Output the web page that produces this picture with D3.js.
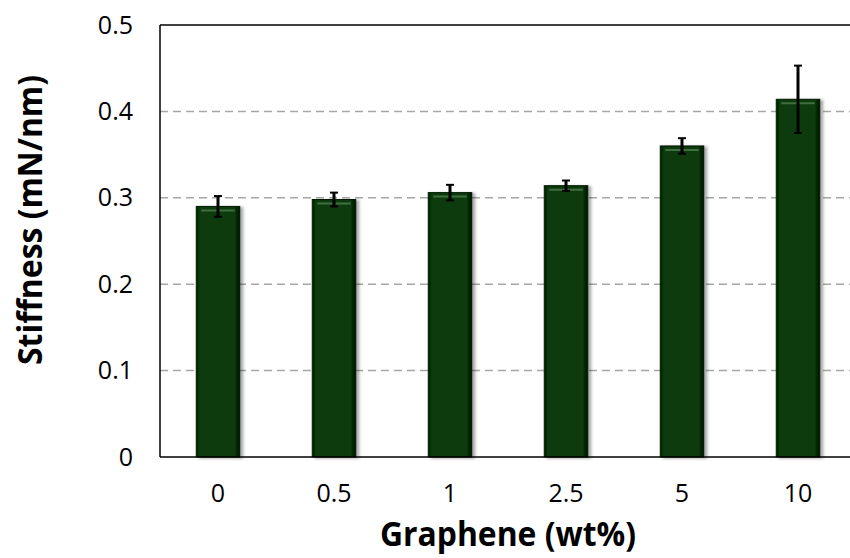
<!DOCTYPE html>
<html>
<head>
<meta charset="utf-8">
<script src="https://cdn.jsdelivr.net/npm/d3@7"></script>
<style>
  body { margin: 0; background: #fff; }
  svg { display: block; }
</style>
</head>
<body>
<svg id="chart" width="850" height="558"></svg>
<script>
const categories = ["0", "0.5", "1", "2.5", "5", "10"];
const stiffness = [0.290, 0.298, 0.306, 0.314, 0.360, 0.414];
const errors = [0.012, 0.008, 0.009, 0.006, 0.009, 0.039];
const yTickValues = [0, 0.1, 0.2, 0.3, 0.4, 0.5];

const data = categories.map((c, i) => ({ cat: c, value: stiffness[i], err: errors[i] }));

const fontFamily = '"Open Sans", "Noto Sans", sans-serif';

const svg = d3.select('#chart');
const margin = { top: 25, right: -6, bottom: 101, left: 160 };
const width = 850, height = 558;
const innerWidth = width - margin.left - margin.right;
const innerHeight = height - margin.top - margin.bottom;

const defs = svg.append('defs');
const grad = defs.append('linearGradient').attr('id', 'barGrad')
    .attr('x1', 0).attr('x2', 1).attr('y1', 0).attr('y2', 0);
grad.append('stop').attr('offset', '0%').attr('stop-color', '#021f02');
grad.append('stop').attr('offset', '8%').attr('stop-color', '#083a08');
grad.append('stop').attr('offset', '88%').attr('stop-color', '#083a08');
grad.append('stop').attr('offset', '100%').attr('stop-color', '#011501');

const shadow = defs.append('filter').attr('id', 'shadow')
    .attr('x', '-20%').attr('y', '-10%').attr('width', '150%').attr('height', '120%');
shadow.append('feDropShadow').attr('dx', 3).attr('dy', 1).attr('stdDeviation', 1.5)
    .attr('flood-color', '#000').attr('flood-opacity', 0.35);

const g = svg.append('g')
    .attr('transform', `translate(${margin.left},${margin.top})`);

const xScale = d3.scaleBand()
    .domain(categories)
    .range([0, innerWidth])
    .paddingInner(0.625)
    .paddingOuter(0.3125);

const yScale = d3.scaleLinear()
    .domain([0, 0.5])
    .range([innerHeight, 0]);

// gridlines
g.selectAll('.grid').data(yTickValues.filter(v => v > 0 && v < 0.5))
  .enter().append('line')
    .attr('x1', 0).attr('x2', innerWidth)
    .attr('y1', d => yScale(d)).attr('y2', d => yScale(d))
    .attr('stroke', '#a6a6a6')
    .attr('stroke-width', 1.5)
    .attr('stroke-dasharray', '8,5');

const yAxis = d3.axisLeft(yScale)
    .tickValues(yTickValues)
    .tickSize(0)
    .tickPadding(27)
    .tickFormat(d => d === 0 ? '0' : d3.format('.1f')(d));

const yAxisG = g.append('g').call(yAxis);
yAxisG.select('.domain').remove();

const xAxis = d3.axisBottom(xScale)
    .tickSize(0)
    .tickPadding(27);

const xAxisG = g.append('g').call(xAxis)
    .attr('transform', `translate(0,${innerHeight})`);
xAxisG.select('.domain').remove();

[yAxisG, xAxisG].forEach(ax => {
    ax.attr('font-family', fontFamily).attr('font-size', 25);
    ax.selectAll('text').attr('fill', '#000');
});

// bars
const bars = g.selectAll('.bar').data(data).enter().append('g').attr('class', 'bar');

bars.append('rect')
    .attr('x', d => xScale(d.cat))
    .attr('y', d => yScale(d.value))
    .attr('width', xScale.bandwidth())
    .attr('height', d => innerHeight - yScale(d.value))
    .attr('fill', 'url(#barGrad)')
    .attr('stroke', '#021a02')
    .attr('stroke-width', 1)
    .attr('filter', 'url(#shadow)');

// top bevel highlight
bars.append('line')
    .attr('x1', d => xScale(d.cat) + 5)
    .attr('x2', d => xScale(d.cat) + xScale.bandwidth() - 5)
    .attr('y1', d => yScale(d.value) + 4)
    .attr('y2', d => yScale(d.value) + 4)
    .attr('stroke', '#3f6e3f')
    .attr('stroke-width', 2);

// error bars
const cx = d => xScale(d.cat) + xScale.bandwidth() / 2;
const capW = 4;
bars.append('line')
    .attr('x1', cx).attr('x2', cx)
    .attr('y1', d => yScale(d.value + d.err))
    .attr('y2', d => yScale(d.value - d.err))
    .attr('stroke', '#000').attr('stroke-width', 3);
bars.append('line')
    .attr('x1', d => cx(d) - capW).attr('x2', d => cx(d) + capW)
    .attr('y1', d => yScale(d.value + d.err)).attr('y2', d => yScale(d.value + d.err))
    .attr('stroke', '#000').attr('stroke-width', 2);
bars.append('line')
    .attr('x1', d => cx(d) - capW).attr('x2', d => cx(d) + capW)
    .attr('y1', d => yScale(d.value - d.err)).attr('y2', d => yScale(d.value - d.err))
    .attr('stroke', '#000').attr('stroke-width', 2);

// frame
g.append('line').attr('x1', 0).attr('x2', 0).attr('y1', 0).attr('y2', innerHeight)
    .attr('stroke', '#000').attr('stroke-width', 1.5);
g.append('line').attr('x1', 0).attr('x2', innerWidth).attr('y1', 0).attr('y2', 0)
    .attr('stroke', '#000').attr('stroke-width', 1.5);
g.append('line').attr('x1', 0).attr('x2', innerWidth).attr('y1', innerHeight).attr('y2', innerHeight)
    .attr('stroke', '#000').attr('stroke-width', 1.5);

// axis titles
svg.append('text')
    .attr('x', 508)
    .attr('y', 546)
    .attr('text-anchor', 'middle')
    .attr('font-family', fontFamily)
    .attr('font-size', 34)
    .attr('font-weight', 'bold')
    .attr('textLength', 256)
    .attr('lengthAdjust', 'spacingAndGlyphs')
    .text('Graphene (wt%)');

svg.append('text')
    .attr('transform', `translate(42,220) rotate(-90)`)
    .attr('text-anchor', 'middle')
    .attr('font-family', fontFamily)
    .attr('font-size', 34)
    .attr('font-weight', 'bold')
    .attr('textLength', 290)
    .attr('lengthAdjust', 'spacingAndGlyphs')
    .text('Stiffness (mN/nm)');
</script>
</body>
</html>
